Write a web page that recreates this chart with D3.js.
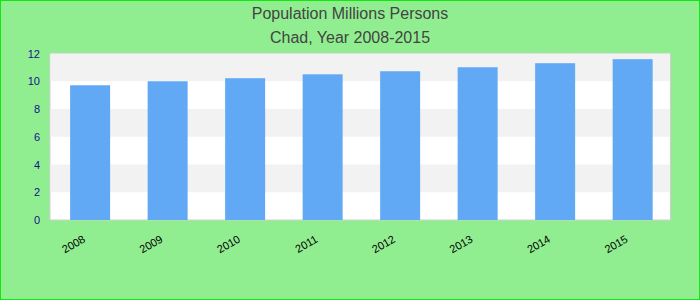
<!DOCTYPE html>
<html>
<head>
<meta charset="utf-8">
<script src="https://cdn.jsdelivr.net/npm/d3@7"></script>
<style>
  body { margin: 0; }
  svg { display: block; font-family: "Liberation Sans", Arial, sans-serif; }
</style>
</head>
<body>
<svg id="chart"></svg>
<script>
const years = ["2008", "2009", "2010", "2011", "2012", "2013", "2014", "2015"];
const population = [9.71, 10.0, 10.22, 10.5, 10.72, 11.01, 11.3, 11.59];
const yTicks = [0, 2, 4, 6, 8, 10, 12];
const titleLines = ["Population Millions Persons", "Chad, Year 2008-2015"];

const width = 700, height = 300;
const marginTop = 53.5, marginRight = 29.5, marginBottom = 80, marginLeft = 50;

const svg = d3.select("#chart")
    .attr("width", width)
    .attr("height", height)
    .attr("viewBox", [0, 0, width, height]);

// background + outer border
svg.append("rect")
    .attr("x", 0.5).attr("y", 0.5)
    .attr("width", width - 1).attr("height", height - 1)
    .attr("fill", "#90ee90")
    .attr("stroke", "#10e810");

const x = d3.scaleBand()
    .domain(years)
    .range([marginLeft, width - marginRight])
    .paddingInner(0.484)
    .paddingOuter(0.245)
    .align(0.53);

const y = d3.scaleLinear()
    .domain([0, 12])
    .range([height - marginBottom, marginTop]);

// plot background with alternating bands
svg.append("rect")
    .attr("x", marginLeft).attr("y", marginTop)
    .attr("width", width - marginLeft - marginRight)
    .attr("height", y(0) - marginTop)
    .attr("fill", "#fff")
    .attr("stroke", "#cfcfcf");

svg.append("g")
  .selectAll("rect")
  .data(d3.pairs(yTicks).filter((d, i) => i % 2 === 1))
  .join("rect")
    .attr("x", marginLeft + 0.5)
    .attr("width", width - marginLeft - marginRight - 1)
    .attr("y", d => y(d[1]))
    .attr("height", d => y(d[0]) - y(d[1]))
    .attr("fill", "#f2f2f2");

// bars
svg.append("g")
    .attr("fill", "#61a9f5")
  .selectAll("rect")
  .data(years.map((yr, i) => [yr, population[i]]))
  .join("rect")
    .attr("x", d => x(d[0]))
    .attr("width", x.bandwidth())
    .attr("y", d => y(d[1]))
    .attr("height", d => y(0) - y(d[1]));

// y axis labels
svg.append("g")
    .attr("transform", `translate(${marginLeft - 10},0)`)
    .call(d3.axisLeft(y).tickValues(yTicks).tickSize(0).tickPadding(0))
    .call(g => g.select(".domain").remove())
    .call(g => g.selectAll("text")
        .attr("fill", "#14148c")
        .attr("font-size", 11)
        .attr("font-family", "'Liberation Sans', Arial, sans-serif"));

// x axis labels, rotated
svg.append("g")
    .attr("transform", `translate(0,${y(0)})`)
    .call(d3.axisBottom(x).tickSize(0).tickPadding(0))
    .call(g => g.select(".domain").remove())
    .call(g => g.selectAll("text")
        .attr("fill", "#000")
        .attr("font-size", 11)
        .attr("font-family", "'Liberation Sans', Arial, sans-serif")
        .attr("text-anchor", "end")
        .attr("dy", "0.35em")
        .attr("transform", "translate(-6,18) rotate(-30)"));

// title
svg.append("g")
    .attr("fill", "#444")
    .attr("font-size", 16)
    .attr("text-anchor", "middle")
  .selectAll("text")
  .data(titleLines)
  .join("text")
    .attr("x", width / 2)
    .attr("y", (d, i) => 18.5 + i * 24)
    .text(d => d);
</script>
</body>
</html>
